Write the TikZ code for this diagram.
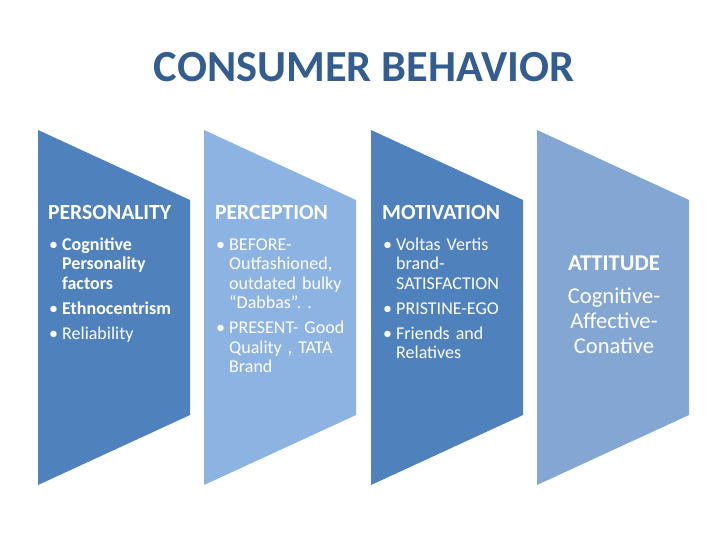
\documentclass[tikz,border=0pt]{standalone}
\usepackage{fontspec}
\setmainfont{Carlito}
\frenchspacing
\definecolor{darkblue}{HTML}{4F81BD}
\definecolor{lightblue}{HTML}{8DB3E2}
\definecolor{midblue}{HTML}{84A6D3}
\definecolor{titleblue}{HTML}{335D91}
\newlength\itemgap
\setlength\itemgap{5.5pt}
\newcommand\firstrule{\rule{0pt}{16pt}}
\newcommand\bfirst[1]{\hangindent=13pt\hangafter=1\noindent\firstrule\makebox[13pt][l]{•}#1\par}
\newcommand\bnext[1]{\vspace{\itemgap}\hangindent=13pt\hangafter=1\noindent\makebox[13pt][l]{•}#1\par}
\tikzset{
  chev/.style={fill=#1, draw=none},
  head/.style={text=white, font=\fontsize{21.6}{24}\selectfont\bfseries, inner sep=0pt, anchor=base west},
  blist/.style={text=white, font=\fontsize{18}{19.5}\selectfont\frenchspacing, inner sep=0pt, anchor=north west, text width=160pt},
  attline/.style={text=white, inner sep=0pt, anchor=base, align=center}
}
\begin{document}
\begin{tikzpicture}[x=1pt,y=-1pt]
\useasboundingbox (0,0) rectangle (728,546);
\fill[white] (0,0) rectangle (728,546);
\node[text=titleblue, font=\fontsize{44.4}{50}\selectfont\bfseries, inner sep=0pt, anchor=base] (title) at (364,81) {CONSUMER BEHAVIOR};
% chevrons
\foreach \x/\c in {38/darkblue,204/lightblue,371/darkblue,537/midblue}{
  \fill[chev=\c] (\x,130) -- (\x+152,200) -- (\x+152,415) -- (\x,485) -- cycle;
}
% column 1
\node[head] (h1) at (48,219) {PERSONALITY};
\node[blist] (b1) at (49,234) {\raggedright
\bfirst{\textbf{Cognitive}\newline\textbf{Personality}\newline\textbf{factors}}
\bnext{\textbf{Ethnocentrism}}
\bnext{Reliability}};
% column 2
\node[head] (h2) at (215,219) {PERCEPTION};
\node[blist] (b2) at (216,234) {\raggedright
\bfirst{BEFORE-\newline Outfashioned,\newline outdated bulky\newline “Dabbas”. .}
\bnext{PRESENT- Good\newline Quality , TATA\newline Brand}};
% column 3
\node[head] (h3) at (382,219) {MOTIVATION};
\node[blist] (b3) at (383,234) {\raggedright
\bfirst{Voltas Vertis\newline brand-\newline SATISFACTION}
\bnext{PRISTINE-EGO}
\bnext{Friends and\newline Relatives}};
% column 4
\node[attline, font=\fontsize{22.6}{25}\selectfont\bfseries] (h4) at (614,270) {ATTITUDE};
\node[attline, font=\fontsize{22.6}{25}\selectfont, anchor=north] (b4) at (614,284.3) {\rule{0pt}{19pt}Cognitive-\\Affective-\\Conative};
\end{tikzpicture}
\end{document}
